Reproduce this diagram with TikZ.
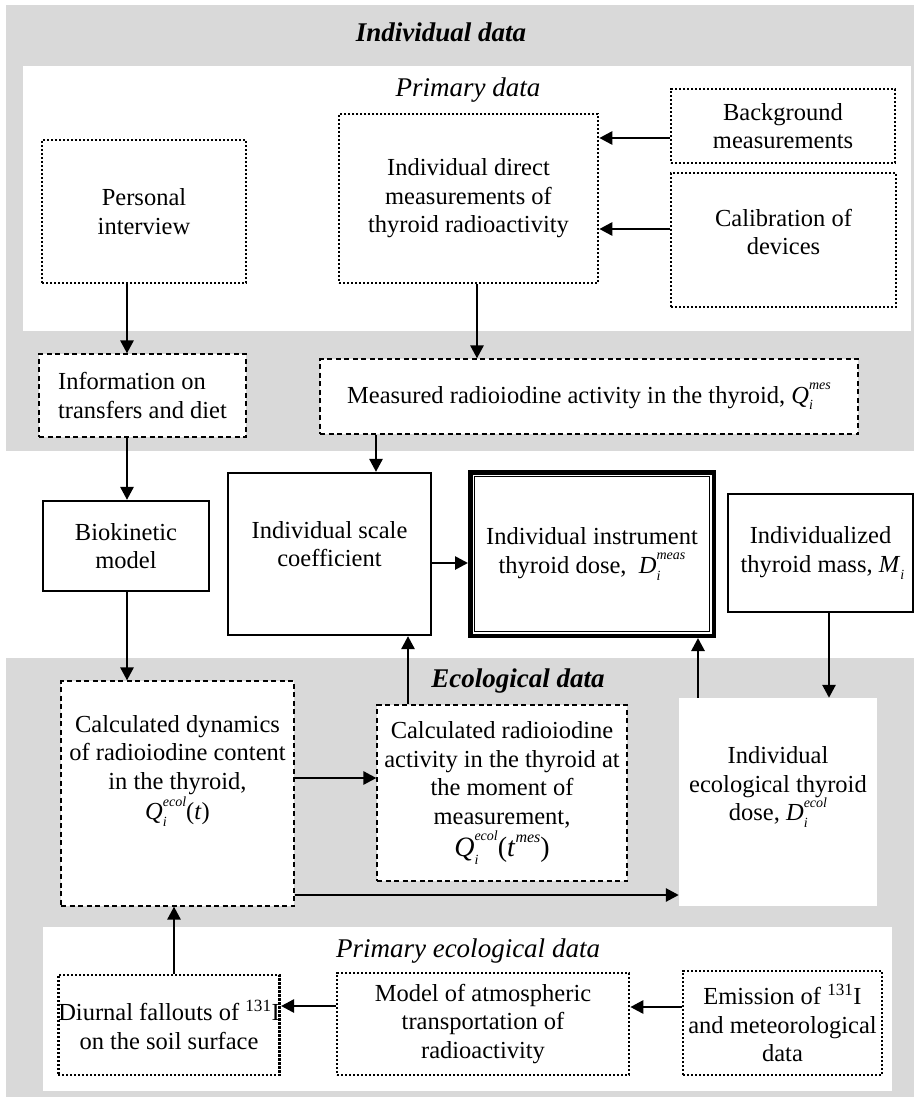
\documentclass[tikz,border=0pt]{standalone}
\usepackage{fontspec}
\setmainfont{Liberation Serif}
\usetikzlibrary{arrows.meta,calc}
\definecolor{panelgray}{RGB}{217,217,217}
\newcommand\symb[3]{\textit{#1}\rlap{\raisebox{-0.28em}{\fontsize{14}{14}\selectfont\textit{#2}}}\raisebox{0.55em}{\fontsize{14}{14}\selectfont\textit{#3}}}
\begin{document}
\begin{tikzpicture}[x=1pt,y=-1pt,
  every node/.style={font=\fontsize{24.5}{28.5}\selectfont, inner sep=0pt, align=center},
  ttl/.style={font=\fontsize{27}{30}\selectfont\bfseries\itshape},
  sttl/.style={font=\fontsize{27}{30}\selectfont\itshape},
  dotbox/.style={draw, line width=2.6pt, dash pattern=on 2.2pt off 1.8pt, fill=white},
  dashbox/.style={draw, line width=1.2pt, dash pattern=on 5pt off 3.5pt, fill=white},
  solidbox/.style={draw, line width=2.2pt, fill=white},
  plainbox/.style={fill=white},
  arr/.style={line width=2.7pt, -{Triangle[length=13pt,width=13pt]}},
  txt/.style={}]
\useasboundingbox (0,0) rectangle (917,1099);
% panels
\fill[panelgray] (6,5) rectangle (914,451);
\fill[white] (23,66) rectangle (911,331);
\fill[panelgray] (6,658) rectangle (914,1097);
\fill[white] (43,927) rectangle (892,1091);
% titles
\node[ttl] (tInd) at (441,32) {Individual data};
\node[sttl] (tPrim) at (468,90) {Primary data};
\node[ttl] (tEco) at (518,681) {Ecological data};
\node[sttl] (tPrimEco) at (468,951) {Primary ecological data};
% primary individual data
\node[dotbox, minimum width=204pt, minimum height=143pt] (pers) at (144,211.5) {Personal\\interview};
\node[dotbox, minimum width=259pt, minimum height=169pt] (direct) at (468.5,198.5) {Individual direct\\measurements of\\thyroid radioactivity};
\node[dotbox, minimum width=224pt, minimum height=74pt] (bg) at (783,126) {Background\\measurements};
\node[dotbox, minimum width=225pt, minimum height=134pt] (calib) at (783.5,240) {};
\node[txt] (calibT) at (783.5,232) {Calibration of\\devices};
% individual data
\node[dashbox, minimum width=207pt, minimum height=83pt, align=left] (info) at (142.5,395.5) {Information on\\transfers and diet};
\node[dashbox, minimum width=538pt, minimum height=75pt] (meas) at (589,396.5) {Measured radioiodine activity in the thyroid, \symb{Q}{i}{mes}};
% middle row
\node[solidbox, minimum width=166pt, minimum height=90pt] (bio) at (126,546) {Biokinetic\\model};
\node[solidbox, minimum width=203pt, minimum height=162pt] (scale) at (329.5,554) {};
\node[txt] (scaleT) at (329.5,544) {Individual scale\\coefficient};
\node[draw, line width=4.5pt, fill=white, minimum width=243.5pt, minimum height=163.5pt] (dose) at (592,554) {Individual instrument\\thyroid dose, \ \symb{D}{i}{meas}};
\draw[line width=0.9pt] ($(dose.north west)+(6.5,6.5)$) rectangle ($(dose.south east)+(-6.5,-6.5)$);
\node[solidbox, minimum width=185pt, minimum height=118pt] (mass) at (820.5,553) {Individualized\\thyroid mass, \symb{M}{i}{}};
% ecological data
\node[dashbox, minimum width=233pt, minimum height=225pt] (dyn) at (177.5,793.5) {};
\node[txt] (dynT) at (177.5,771) {Calculated dynamics\\of radioiodine content\\in the thyroid,\\[2pt]\symb{Q}{i}{ecol}(\textit{t})};
\node[dashbox, minimum width=250pt, minimum height=176pt] (crad) at (502,793) {Calculated radioiodine\\activity in the thyroid at\\the moment of\\measurement,\\[2pt]{\fontsize{28}{30}\selectfont\symb{Q}{i}{ecol}(\textit{t}\raisebox{0.5em}{\fontsize{16}{16}\selectfont\textit{mes}})}};
\node[plainbox, minimum width=198pt, minimum height=208pt] (eco) at (778,802) {};
\node[txt] (ecoT) at (778,787) {Individual\\ecological thyroid\\dose, \symb{D}{i}{ecol}};
% primary ecological data
\node[dotbox, minimum width=218pt, minimum height=100pt] (diur) at (169,1025) {Diurnal fallouts of \textsuperscript{131}I\\on the soil surface};
\node[dotbox, minimum width=292pt, minimum height=102pt] (model) at (483,1024) {Model of atmospheric\\transportation of\\radioactivity};
\node[dotbox, minimum width=199pt, minimum height=104pt] (emis) at (782.5,1023) {Emission of \textsuperscript{131}I\\and meteorological\\data};
% arrows
\draw[arr] ([yshift=-12pt]bg.west) -- ([yshift=-12pt]bg.west -| direct.east);
\draw[arr] ([yshift=11pt]calib.west) -- ([yshift=11pt]calib.west -| direct.east);
\draw[arr] ([xshift=-17pt]pers.south) -- ([xshift=-17pt]pers.south |- info.north);
\draw[arr] ([xshift=8.5pt]direct.south) -- ([xshift=8.5pt]direct.south |- meas.north);
\draw[arr] ([xshift=-15.5pt]info.south) -- ([xshift=-15.5pt]info.south |- bio.north);
\draw[arr] ([xshift=46.5pt]scale.north |- meas.south) -- ([xshift=46.5pt]scale.north);
\draw[arr] ([yshift=-9pt]scale.east) -- ([yshift=-9pt]scale.east -| dose.west);
\draw[arr] ([xshift=1pt]bio.south) -- ([xshift=1pt]bio.south |- dyn.north);
\draw[arr] ([xshift=-94pt]crad.north) -- ([xshift=-94pt]crad.north |- scale.south);
\draw[arr] ([xshift=-80pt]eco.north) -- ([xshift=-80pt]eco.north |- dose.south);
\draw[arr] ([xshift=8.5pt]mass.south) -- ([xshift=8.5pt]mass.south |- eco.north);
\draw[arr] ([yshift=15.5pt]dyn.east) -- ([yshift=15.5pt]dyn.east -| crad.west);
\draw[arr] ([yshift=-101.5pt]dyn.east) -- ([yshift=-101.5pt]dyn.east -| eco.west);
\draw[arr] ([xshift=5pt]diur.north) -- ([xshift=5pt]diur.north |- dyn.south);
\draw[arr] ([yshift=18pt]model.west) -- ([yshift=18pt]model.west -| diur.east);
\draw[arr] ([yshift=16pt]emis.west) -- ([yshift=16pt]emis.west -| model.east);
\end{tikzpicture}
\end{document}
